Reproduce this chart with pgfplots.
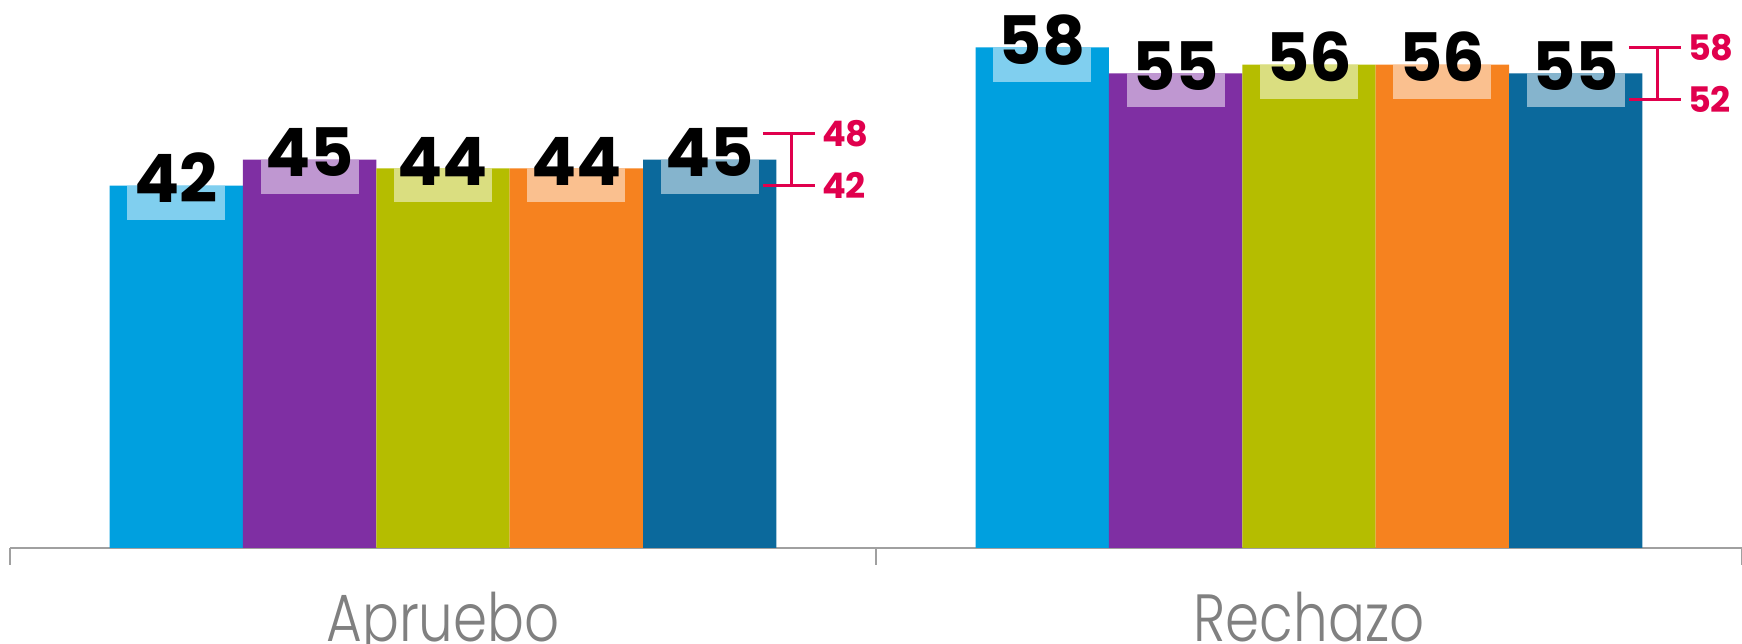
\documentclass[border=0pt]{standalone}
\usepackage{fontspec}
\setmainfont{Poppins}
\newfontfamily\lightfont{Poppins Light}[FakeStretch=0.82]
\usepackage{pgfplots}
\usepackage{pgfplotstable}
\pgfplotsset{compat=1.18}
\definecolor{c1}{RGB}{0,160,223}
\definecolor{c2}{RGB}{127,47,163}
\definecolor{c3}{RGB}{181,189,0}
\definecolor{c4}{RGB}{246,130,31}
\definecolor{c5}{RGB}{11,105,156}
\definecolor{crim}{RGB}{224,0,77}
\definecolor{axgray}{RGB}{160,160,160}
\definecolor{lblgray}{RGB}{128,128,128}
\pgfplotstableread{
x y e
-0.308 42 3.95
0.692 58 3.95
}\sa
\pgfplotstableread{
x y e
-0.154 45 3.95
0.846 55 3.95
}\sb
\pgfplotstableread{
x y e
0 44 3.95
1 56 3.95
}\sc
\pgfplotstableread{
x y e
0.154 44 3.95
1.154 56 3.95
}\sd
\pgfplotstableread{
x y e
0.308 45 3.95
1.308 55 3.95
}\se
\pgfplotsset{
 valbar/.style={ybar, bar width=0.154, bar shift=0, draw=none, fill=#1},
 valbox/.style={draw=none, mark=none,
   error bars/.cd, y dir=minus, y explicit, error mark=none,
   error bar style={line width=9.8mm, draw=#1!50!white, line cap=butt}},
 valtxt/.style={draw=none, mark=none,
   nodes near coords={\pgfmathprintnumber{\pgfplotspointmeta}},
   every node near coord/.append style={anchor=base, yshift=-1.7mm, text=black,
     inner sep=0pt, outer sep=0pt, font=\fontsize{19}{20}\selectfont\bfseries}},
 brk/.style={crim, line width=0.3mm},
}
\tikzset{brklbl/.style={anchor=west, inner sep=0pt, text=crim, font=\fontsize{10}{11}\selectfont\bfseries}}
\begin{document}
\begin{tikzpicture}
\begin{axis}[name=ax, scale only axis, width=173.2mm, height=54.8mm,
 xmin=-0.5, xmax=1.5, ymin=0, ymax=63.5,
 axis x line*=bottom, axis y line=none,
 x axis line style={draw=axgray, line width=0.2mm},
 xtick={0,1}, xticklabels={Apruebo,Rechazo},
 major tick length=0pt,
 minor xtick={-0.5,0.5,1.5}, minor tick length=1.7mm, tick align=outside,
 minor tick style={draw=axgray, line width=0.2mm},
 xticklabel style={font=\lightfont\fontsize{19}{20}\selectfont, text=lblgray, anchor=base, yshift=-9.4mm},
 ytick=\empty, clip=false,
 /pgf/number format/assume math mode=true,
]
% bars (each series at group position + its offset)
\addplot[valbar=c1] table[x=x,y=y] {\sa};
\addplot[valbar=c2] table[x=x,y=y] {\sb};
\addplot[valbar=c3] table[x=x,y=y] {\sc};
\addplot[valbar=c4] table[x=x,y=y] {\sd};
\addplot[valbar=c5] table[x=x,y=y] {\se};
% light boxes below the bar tops
\addplot[valbox=c1] table[x=x,y=y,y error=e] {\sa};
\addplot[valbox=c2] table[x=x,y=y,y error=e] {\sb};
\addplot[valbox=c3] table[x=x,y=y,y error=e] {\sc};
\addplot[valbox=c4] table[x=x,y=y,y error=e] {\sd};
\addplot[valbox=c5] table[x=x,y=y,y error=e] {\se};
% value labels
\addplot[valtxt] table[x=x,y=y] {\sa};
\addplot[valtxt] table[x=x,y=y] {\sb};
\addplot[valtxt] table[x=x,y=y] {\sc};
\addplot[valtxt] table[x=x,y=y] {\sd};
\addplot[valtxt] table[x=x,y=y] {\se};
% range brackets
\addplot[brk] coordinates {(0.3695,48) (0.4296,48)};
\addplot[brk] coordinates {(0.3695,42) (0.4296,42)};
\addplot[brk] coordinates {(0.402,42) (0.402,48)};
\addplot[brk] coordinates {(1.3695,58) (1.4296,58)};
\addplot[brk] coordinates {(1.3695,52) (1.4296,52)};
\addplot[brk] coordinates {(1.402,52) (1.402,58)};
\node[brklbl] at (axis cs:0.437,48) {48};
\node[brklbl] at (axis cs:0.437,42) {42};
\node[brklbl] at (axis cs:1.437,58) {58};
\node[brklbl] at (axis cs:1.437,52) {52};
\end{axis}
\pgfresetboundingbox
\path[use as bounding box] (ax.south west) ++(-1mm,-9.6mm) rectangle ++(174.2mm,64.4mm);
\end{tikzpicture}
\end{document}
